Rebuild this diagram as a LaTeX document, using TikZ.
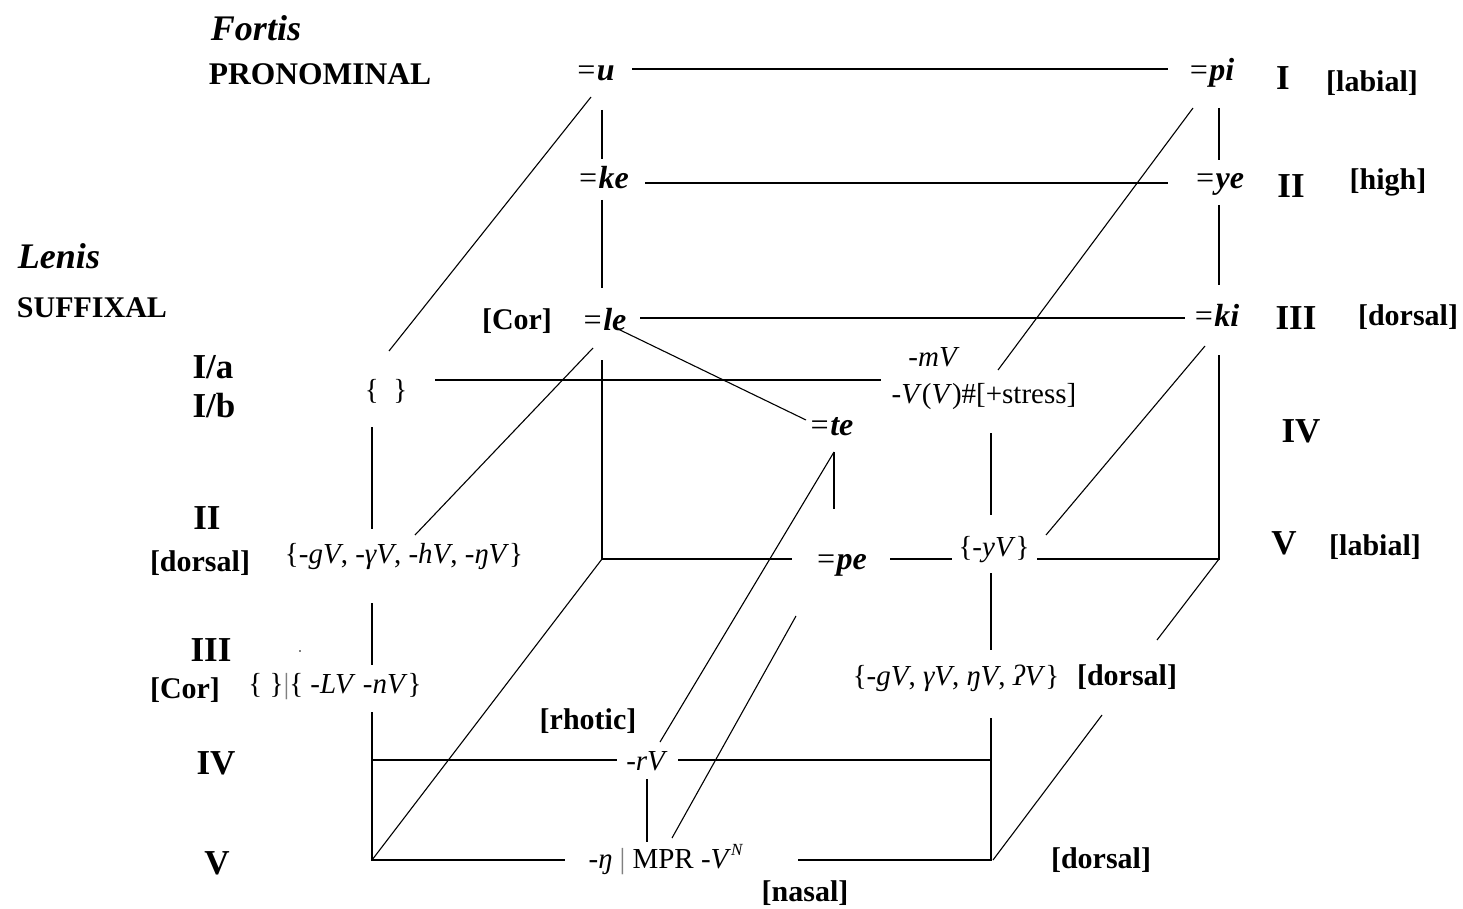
\documentclass[tikz,border=0pt]{standalone}
\usepackage{fontspec}
\setmainfont{Liberation Serif}
\begin{document}
\begin{tikzpicture}[x=1pt,y=-1pt,
  every node/.style={inner sep=0pt,anchor=center},
  lab/.style={font=\fontsize{30}{34}\selectfont\bfseries},
  num/.style={font=\fontsize{35}{40}\selectfont\bfseries},
  hd/.style={font=\fontsize{36}{40}\selectfont\bfseries\itshape},
  cl/.style={font=\fontsize{32}{36}\selectfont\bfseries\itshape},
  sfx/.style={font=\fontsize{29}{34}\selectfont},
  ln/.style={line width=1.5pt,line cap=butt},
  dg/.style={line width=1.1pt}]
\useasboundingbox (0,0) rectangle (1463,909);
\fill[white] (0,0) rectangle (1463,909);
% ---------- headings ----------
\node[hd] (fortis) at (256,28) {Fortis};
\node[lab,font=\fontsize{31.5}{34}\selectfont\bfseries] (pron) at (320,74) {PRONOMINAL};
\node[hd] (lenis) at (59,256) {Lenis};
\node[lab] (suff) at (92,308) {SUFFIXAL};
% ---------- left labels ----------
\node[num] (Ia) at (213,367) {I/a};
\node[num] (Ib) at (214,406) {I/b};
\node[num] (IIl) at (207,518) {II};
\node[lab] (dorl) at (200,563) {[dorsal]};
\node[num] (IIIl) at (211,650) {III};
\node[lab] (corl) at (185,690) {[Cor]};
\node[num] (IVl) at (216,763) {IV};
\node[num] (Vl) at (217,863) {V};
% ---------- right labels ----------
\node[num] (Ir) at (1283,78) {I};
\node[lab] (labr) at (1372,83) {[labial]};
\node[num] (IIr) at (1291,186) {II};
\node[lab] (high) at (1388,182) {[high]};
\node[num] (IIIr) at (1296,318) {III};
\node[lab] (dorr) at (1408,317) {[dorsal]};
\node[num] (IVr) at (1301,431) {IV};
\node[num] (Vr) at (1284,543) {V};
\node[lab] (labr2) at (1375,547) {[labial]};
% ---------- clitics ----------
\node[cl] (u) at (595,73) {{\mdseries=}u};
\node[cl] (pi) at (1211,73) {{\mdseries=}pi};
\node[cl] (ke) at (603,178) {{\mdseries=}ke};
\node[cl] (ye) at (1219,184) {{\mdseries=}ye};
\node[cl] (le) at (604,320) {{\mdseries=}le};
\node[lab] (cor) at (517,321) {[Cor]};
\node[cl] (ki) at (1216,315) {{\mdseries=}ki};
\node[cl] (te) at (831,427) {{\mdseries=}te};
\node[cl] (pe) at (841,565) {{\mdseries=}pe};
% ---------- suffixes ----------
\node[sfx] (emp) at (386,391) {\{\ \ \}};
\node[sfx] (mv) at (934,357) {\textit{-mV}};
\node[sfx] (vv) at (984,397) {-\textit{V}(\textit{V})\#[+stress]};
\node[sfx] (dors) at (404,557) {\{-\textit{gV}, -\textit{γV}, -\textit{hV}, -\textit{ŋV}\}};
\node[sfx] (cors) at (335,687) {\{ \}{\color{gray}|}\{ -\textit{LV} -\textit{nV}\}};
\fill (300,651) circle (0.9);
\node[sfx] (yv) at (994,550) {\{-\textit{yV}\}};
\node[sfx] (dors2) at (956,678) {\{-\textit{gV}, \textit{γV}, \textit{ŋV}, \textit{ʔV}\}};
\node[lab] (dorm) at (1127,677) {[dorsal]};
\node[lab] (rhot) at (588,721) {[rhotic]};
\node[sfx] (rv) at (647,761) {\textit{-rV}};
\node[sfx] (nas) at (666,860) {-\textit{ŋ} {\color{gray}|} MPR -\textit{V}\raisebox{0.45em}{\fontsize{17}{18}\selectfont\textit{N}}};
\node[lab] (nasal) at (805,893) {[nasal]};
\node[lab] (dorb) at (1101,860) {[dorsal]};
% ---------- line end points ----------
\coordinate (a1) at (632,69);   \coordinate (a2) at (1168,69);
\coordinate (b1) at (602,110);  \coordinate (b2) at (602,159);
\coordinate (c1) at (645,183);  \coordinate (c2) at (1168,183);
\coordinate (d1) at (1219,108); \coordinate (d2) at (1219,160);
\coordinate (e1) at (602,200);  \coordinate (e2) at (602,288);
\coordinate (f1) at (1219,205); \coordinate (f2) at (1219,285);
\coordinate (g1) at (640,318);  \coordinate (g2) at (1185,318);
\coordinate (h1) at (591,97);   \coordinate (h2) at (389,351);
\coordinate (i1) at (1193,108); \coordinate (i2) at (998,370);
\coordinate (j1) at (618,329);  \coordinate (j2) at (806,420);
\coordinate (k1) at (435,380);  \coordinate (k2) at (881,380);
\coordinate (l1) at (593,348);  \coordinate (l2) at (415,535);
\coordinate (m1) at (602,360);  \coordinate (BLB) at (602,559);
\coordinate (n1) at (792,559);  \coordinate (n2) at (890,559);
\coordinate (n3) at (952,559);  \coordinate (n4) at (1037,559);
\coordinate (BRB) at (1219,559);
\coordinate (o1) at (1219,355);
\coordinate (p1) at (1205,346); \coordinate (p2) at (1046,535);
\coordinate (q1) at (372,427);  \coordinate (q2) at (372,529);
\coordinate (q3) at (372,603);  \coordinate (q4) at (372,665);
\coordinate (q5) at (372,712);  \coordinate (FLB) at (372,860);
\coordinate (r1) at (372,760);  \coordinate (r2) at (617,760);
\coordinate (r3) at (678,760);  \coordinate (r4) at (991,760);
\coordinate (s1) at (565,860);  \coordinate (s2) at (798,860);
\coordinate (FRB) at (991,860);
\coordinate (t1) at (991,433);  \coordinate (t2) at (991,515);
\coordinate (t3) at (991,573);  \coordinate (t4) at (991,650);
\coordinate (t5) at (991,718);
\coordinate (v1) at (834,452);  \coordinate (v2) at (660,742);
\coordinate (v3) at (834,509);
\coordinate (w1) at (796,616);  \coordinate (w2) at (672,838);
\coordinate (x1) at (647,779);  \coordinate (x2) at (647,842);
\coordinate (y1) at (1157,640);
\coordinate (z1) at (1102,715); \coordinate (z2) at (993,860);
% ---------- lines ----------
\draw[ln] (a1) -- (a2);
\draw[ln] (b1) -- (b2);
\draw[ln] (c1) -- (c2);
\draw[ln] (d1) -- (d2);
\draw[ln] (e1) -- (e2);
\draw[ln] (f1) -- (f2);
\draw[ln] (g1) -- (g2);
\draw[dg] (h1) -- (h2);
\draw[dg] (i1) -- (i2);
\draw[dg] (j1) -- (j2);
\draw[ln] (k1) -- (k2);
\draw[dg] (l1) -- (l2);
\draw[ln] (m1) -- (BLB) -- (n1);
\draw[ln] (n2) -- (n3);
\draw[ln] (n4) -- (BRB) -- (o1);
\draw[dg] (p1) -- (p2);
\draw[ln] (q1) -- (q2);
\draw[ln] (q3) -- (q4);
\draw[ln] (q5) -- (FLB) -- (s1);
\draw[ln] (r1) -- (r2);
\draw[ln] (r3) -- (r4);
\draw[ln] (s2) -- (FRB) -- (t5);
\draw[ln] (t1) -- (t2);
\draw[ln] (t3) -- (t4);
\draw[dg] (FLB) -- (BLB);
\draw[dg] (v1) -- (v2);
\draw[ln] (v1) -- (v3);
\draw[dg] (w1) -- (w2);
\draw[ln] (x1) -- (x2);
\draw[dg] (BRB) -- (y1);
\draw[dg] (z1) -- (z2);
\end{tikzpicture}
\end{document}
